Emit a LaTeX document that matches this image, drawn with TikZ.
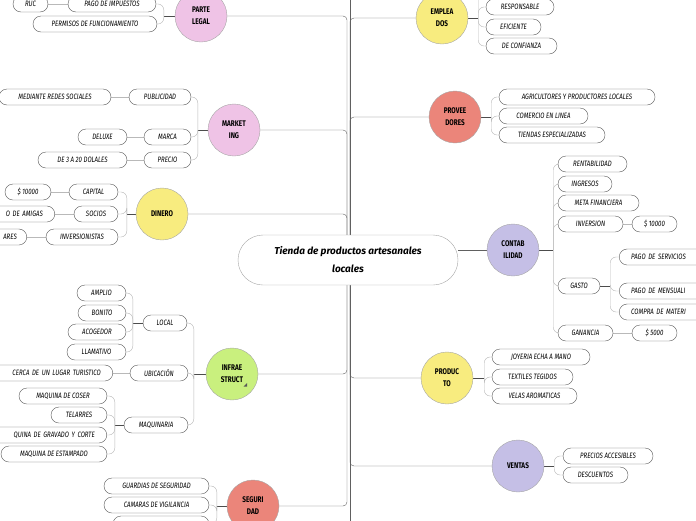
\documentclass[tikz,border=0pt]{standalone}
\usepackage{fontspec}
\setmainfont{Fira Sans}
\newfontfamily\hand[FakeStretch=0.78]{Fira Sans}
\usetikzlibrary{calc,positioning,backgrounds}
\definecolor{rosa}{HTML}{EFC3E6}
\definecolor{amarillo}{HTML}{F8EC7F}
\definecolor{salmon}{HTML}{EB857A}
\definecolor{verde}{HTML}{C9F07E}
\definecolor{lila}{HTML}{C5BFE6}

\begin{document}
\begin{tikzpicture}[x=1pt,y=-1pt]

     \tikzstyle{every node}=[inner sep=0pt]
     \tikzstyle{topic}=[circle,draw=gray!70,minimum size=52pt,align=center,font=\hand\bfseries\fontsize{8.2}{12}\selectfont]
     \tikzstyle{pill}=[draw=gray!70!black,rounded corners=8pt,minimum height=16pt,fill=white,font=\hand\itshape\fontsize{7.8}{8}\selectfont]
     \tikzstyle{rama}=[draw=gray!75!black,rounded corners=4pt]
     \tikzstyle{tallo}=[draw=gray!60!black,line width=1pt]
     \tikzstyle{llave}=[draw=gray!55,rounded corners=6pt,to path={|- (\tikztotarget)}]
     \tikzstyle{enlace}=[draw=gray!55]

     \useasboundingbox (0,0) rectangle (696,520);
     \clip (0,0) rectangle (696,520);

     % centro
     \node at (348,260)[draw=gray!70,fill=white,rounded corners=25pt,minimum width=220pt,minimum height=50pt,align=center,font=\bfseries\itshape\fontsize{10}{18}\selectfont](tienda){Tienda de productos artesanales\\locales};

     % parte legal
     \node at (201,16)[topic,fill=rosa](legal){PARTE\\LEGAL};
     \node at (112,4)[pill,minimum width=88pt](impuestos){PAGO DE IMPUESTOS};
     \node at (30.5,4)[pill,minimum width=35pt](ruc){RUC};
     \node at (95,24)[pill,minimum width=124pt](permisos){PERMISOS DE FUNCIONAMIENTO};

     % marketing
     \node at (234,130)[topic,fill=rosa](marketing){MARKET\\ING};
     \node at (160,97)[pill,minimum width=62pt](publicidad){PUBLICIDAD};
     \node at (167.5,137)[pill,minimum width=47pt](marca){MARCA};
     \node at (167.5,160)[pill,minimum width=47pt](precio){PRECIO};
     \node at (55,97)[pill,minimum width=112pt](redes){MEDIANTE REDES SOCIALES};
     \node at (102.5,137)[pill,minimum width=49pt](deluxe){DELUXE};
     \node at (82.5,160)[pill,minimum width=89pt](dolales){DE 3 A 20 DOLALES};

     % dinero
     \node at (162,214)[topic,fill=amarillo](dinero){DINERO};
     \node at (93.5,192)[pill,minimum width=49pt](capital){CAPITAL};
     \node at (96,214)[pill,minimum width=44pt](socios){SOCIOS};
     \node at (82,237)[pill,minimum width=72pt](inversionistas){INVERSIONISTAS};
     \node at (28,192)[pill,minimum width=46pt](capmonto){\$ 10000};
     \node at (55,214)[pill,anchor=east,text width=80pt,align=right,inner xsep=12pt](amigas){O DE AMIGAS};
     \node at (27,237)[pill,anchor=east,text width=60pt,align=right,inner xsep=10pt](ares){ARES};

     % infraestructura
     \node at (232,374)[topic,fill=verde](infra){INFRAE\\STRUCT};
     \fill[gray!70!black] (243.5,386.5) -- (247,386.5) -- (247,383) -- cycle;
     \node at (165,323)[pill,minimum width=44pt](local){LOCAL};
     \node at (159,373)[pill,minimum width=58pt](ubicacion){UBICACIÓN};
     \node at (156,425)[pill,minimum width=64pt](maquinaria){MAQUINARIA};
     \node at (101.5,293)[pill,minimum width=49pt](amplio){AMPLIO};
     \node at (102,313)[pill,minimum width=48pt](bonito){BONITO};
     \node at (97,332)[pill,minimum width=58pt](acogedor){ACOGEDOR};
     \node at (96.5,352)[pill,minimum width=59pt](llamativo){LLAMATIVO};
     \node at (113,373)[pill,anchor=east,text width=110pt,align=right,inner xsep=12pt](turistico){CERCA DE UN LUGAR TURISTICO};
     \node at (63,396)[pill,minimum width=88pt](coser){MAQUINA DE COSER};
     \node at (79,415)[pill,minimum width=56pt](telarres){TELARRES};
     \node at (107,435)[pill,anchor=east,text width=110pt,align=right,inner xsep=12pt](gravado){QUINA DE GRAVADO Y CORTE};
     \node at (54,454)[pill,minimum width=106pt](estampado){MAQUINA DE ESTAMPADO};

     % seguridad
     \node at (253,506)[topic,fill=salmon](seguridad){SEGURI\\DAD};
     \node at (156.5,486)[pill,minimum width=105pt](guardias){GUARDIAS DE SEGURIDAD};
     \node at (156.5,505)[pill,minimum width=105pt](camaras){CAMARAS DE VIGILANCIA};
     \node at (161,524)[pill,minimum width=96pt](seg3){};

     % empleados
     \node at (442,18)[topic,fill=amarillo](empleados){EMPLEA\\DOS};
     \node at (520,7)[pill,minimum width=68pt](responsable){RESPONSABLE};
     \node at (513.5,27)[pill,minimum width=55pt](eficiente){EFICIENTE};
     \node at (521.5,46)[pill,minimum width=71pt](confianza){DE CONFIANZA};
     \coordinate (emp0) at (486,-14);

     % proveedores
     \node at (455,117)[topic,fill=salmon](proveedores){PROVEE\\DORES};
     \node at (577,97)[pill,minimum width=156pt](agricultores){AGRICULTORES Y PRODUCTORES LOCALES};
     \node at (543.5,116)[pill,minimum width=89pt](comercio){COMERCIO EN LINEA};
     \node at (552,135)[pill,minimum width=106pt](tiendas){TIENDAS ESPECIALIZADAS};

     % contabilidad
     \node at (513,250)[topic,fill=lila](contabilidad){CONTAB\\ILIDAD};
     \node at (592.5,164)[pill,minimum width=69pt](rentabilidad){RENTABILIDAD};
     \node at (585,184)[pill,minimum width=54pt](ingresos){INGRESOS};
     \node at (598.5,203)[pill,minimum width=81pt](meta){META FINANCIERA};
     \node at (590.5,224)[pill,minimum width=65pt](inversion){INVERSION};
     \node at (654.5,224)[pill,minimum width=45pt](invmonto){\$ 10000};
     \node at (579,286)[pill,minimum width=42pt](gasto){GASTO};
     \node at (619,257)[pill,anchor=west,text width=90pt,align=left,inner xsep=12pt](servicios){PAGO DE SERVICIOS};
     \node at (619,291)[pill,anchor=west,text width=90pt,align=left,inner xsep=12pt](mensuali){PAGO DE MENSUALI};
     \node at (619,312)[pill,anchor=west,text width=90pt,align=left,inner xsep=12pt](materi){COMPRA DE MATERI};
     \node at (585.5,333)[pill,minimum width=55pt](ganancia){GANANCIA};
     \node at (654.5,333)[pill,minimum width=45pt](ganmonto){\$ 5000};

     % producto
     \node at (447,378)[topic,fill=amarillo](producto){PRODUC\\TO};
     \node at (541,357)[pill,minimum width=98pt](joyeria){JOYERIA ECHA A MANO};
     \node at (532.5,377)[pill,minimum width=81pt](textiles){TEXTILES TEGIDOS};
     \node at (534.5,396)[pill,minimum width=85pt](velas){VELAS AROMATICAS};

     % ventas
     \node at (518,466)[topic,fill=lila](ventas){VENTAS};
     \node at (608,456)[pill,minimum width=90pt](precios){PRECIOS ACCESIBLES};
     \node at (595.5,475)[pill,minimum width=65pt](descuentos){DESCUENTOS};

     \begin{scope}[on background layer]
     % tronco
     \coordinate (izq) at (347,260);
     \coordinate (der) at (350,260);
     \draw[rama](legal.east)-|(izq);
     \draw[rama](marketing.east)-|(izq);
     \draw[rama](dinero.east)-|(izq);
     \draw[rama](infra.east)-|(izq);
     \draw[rama](seguridad.east)-|(izq);
     \draw[rama](350,-5)--(350,525);
     \draw[rama](empleados.west)-|(der);
     \draw[rama](proveedores.west)-|(der);
     \draw[rama](producto.west)-|(der);
     \draw[rama](ventas.west)-|(der);
     \draw[rama](contabilidad.west)--(contabilidad.west-|tienda.east);

     % ramas izquierdas
     \coordinate (legalj) at ($(legal.west)+(-11,0)$);
     \path[tallo](legal.west)edge(legalj);
     \path[llave](legalj)edge(impuestos.east)edge(permisos.east);
     \path[enlace](impuestos.west)edge(ruc.east);

     \coordinate (marketingj) at ($(marketing.west)+(-10,0)$);
     \path[tallo](marketing.west)edge(marketingj);
     \path[llave](marketingj)edge(publicidad.east)edge(marca.east)edge(precio.east);
     \path[enlace](publicidad.west)edge(redes.east);
     \path[enlace](marca.west)edge(deluxe.east);
     \path[enlace](precio.west)edge(dolales.east);

     \coordinate (dineroj) at ($(dinero.west)+(-9,0)$);
     \path[tallo](dinero.west)edge(dineroj);
     \path[llave](dineroj)edge(capital.east)edge(socios.east)edge(inversionistas.east);
     \path[enlace](capital.west)edge(capmonto.east);
     \path[enlace](socios.west)edge(amigas.east);
     \path[enlace](inversionistas.west)edge(ares.east);

     \coordinate (infraj) at ($(infra.west)+(-12,0)$);
     \path[tallo](infra.west)edge(infraj);
     \path[llave](infraj)edge(local.east)edge(ubicacion.east)edge(maquinaria.east);
     \coordinate (localj) at ($(local.west)+(-10,0)$);
     \path[tallo](local.west)edge(localj);
     \path[llave](localj)edge(amplio.east)edge(bonito.east)edge(acogedor.east)edge(llamativo.east);
     \path[enlace](ubicacion.west)edge(turistico.east);
     \coordinate (maquinariaj) at ($(maquinaria.west)+(-9,0)$);
     \path[tallo](maquinaria.west)edge(maquinariaj);
     \path[llave](maquinariaj)edge(coser.east)edge(telarres.east)edge(gravado.east)edge(estampado.east);

     \coordinate (seguridadj) at ($(seguridad.west)+(-10,0)$);
     \path[tallo](seguridad.west)edge(seguridadj);
     \path[llave](seguridadj)edge(guardias.east)edge(camaras.east)edge(seg3.east);

     % ramas derechas
     \coordinate (empleadosj) at ($(empleados.east)+(10,0)$);
     \path[tallo](empleados.east)edge(empleadosj);
     \path[llave](empleadosj)edge(emp0)edge(responsable.west)edge(eficiente.west)edge(confianza.west);

     \coordinate (proveedoresj) at ($(proveedores.east)+(10,0)$);
     \path[tallo](proveedores.east)edge(proveedoresj);
     \path[llave](proveedoresj)edge(agricultores.west)edge(comercio.west)edge(tiendas.west);

     \coordinate (contabilidadj) at ($(contabilidad.east)+(14,0)$);
     \path[tallo](contabilidad.east)edge(contabilidadj);
     \path[llave](contabilidadj)edge(rentabilidad.west)edge(ingresos.west)edge(meta.west)edge(inversion.west)edge(gasto.west)edge(ganancia.west);
     \path[enlace](inversion.east)edge(invmonto.west);
     \path[enlace](ganancia.east)edge(ganmonto.west);
     \coordinate (gastoj) at ($(gasto.east)+(10,0)$);
     \path[tallo](gasto.east)edge(gastoj);
     \path[llave](gastoj)edge(servicios.west)edge(mensuali.west)edge(materi.west);

     \coordinate (productoj) at ($(producto.east)+(11,0)$);
     \path[tallo](producto.east)edge(productoj);
     \path[llave](productoj)edge(joyeria.west)edge(textiles.west)edge(velas.west);

     \coordinate (ventasj) at ($(ventas.east)+(10,0)$);
     \path[tallo](ventas.east)edge(ventasj);
     \path[llave](ventasj)edge(precios.west)edge(descuentos.west);
     \end{scope}

\end{tikzpicture}
\end{document}
